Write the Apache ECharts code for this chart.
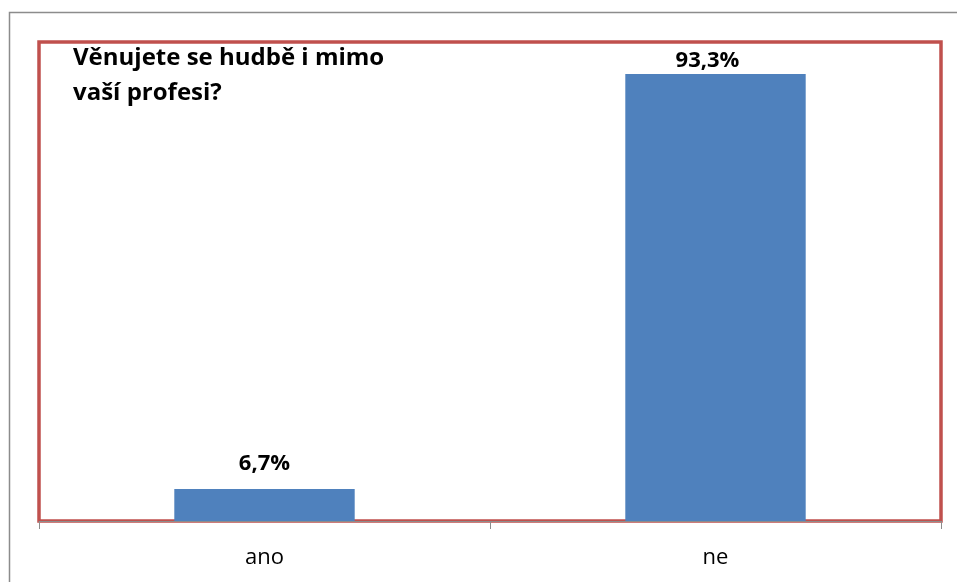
<!DOCTYPE html>
<html>
<head>
<meta charset="utf-8">
<script src="https://cdn.jsdelivr.net/npm/echarts@6/dist/echarts.min.js"></script>
<style>html,body{margin:0;padding:0;background:#fff;}#c{width:957px;height:582px;}</style>
</head>
<body>
<div id="c"></div>
<script>
const categories = ['ano', 'ne'];
const values = [6.7, 93.3];
const titleLines = ['Věnujete se hudbě i mimo', 'vaší profesi?'];
const labelDistances = [14, 2];
const labelOffsets = [[0, 0], [-8, 0]];

const chart = echarts.init(document.getElementById('c'), null, {renderer: 'canvas'});
const font = '"Open Sans", "Noto Sans", sans-serif';
chart.setOption({
  backgroundColor: '#fff',
  animation: false,
  title: {
    text: titleLines.join('\n'),
    left: 68,
    top: 36,
    textStyle: {fontFamily: font, fontWeight: 'bold', fontSize: 24, lineHeight: 35, color: '#000'}
  },
  grid: {
    left: 39, right: 16, top: 42, bottom: 61,
    show: true, borderColor: '#C0504D', borderWidth: 3.5, backgroundColor: 'transparent'
  },
  xAxis: {
    type: 'category',
    data: categories,
    boundaryGap: true,
    axisLine: {show: true, lineStyle: {color: '#8c8c8c', width: 1}},
    axisTick: {show: true, length: 8, lineStyle: {color: '#8c8c8c', width: 1}},
    axisLabel: {fontFamily: font, fontSize: 22, color: '#000', margin: 26}
  },
  yAxis: {
    type: 'value', min: 0, max: 100, show: false, splitLine: {show: false}
  },
  series: [{
    type: 'bar',
    data: values.map((v, i) => ({value: v, label: {distance: labelDistances[i], offset: labelOffsets[i]}})),
    barWidth: '40%',
    itemStyle: {color: '#4F81BD'},
    label: {
      show: true, position: 'top',
      fontFamily: font, fontWeight: 'bold', fontSize: 22, color: '#000',
      formatter: p => p.value.toFixed(1).replace('.', ',') + '%'
    }
  }],
  graphic: [{
    type: 'rect',
    shape: {x: 9.5, y: 12.5, width: 1000, height: 700},
    style: {fill: 'none', stroke: '#8c8c8c', lineWidth: 1.5},
    silent: true
  }]
});
</script>
</body>
</html>
